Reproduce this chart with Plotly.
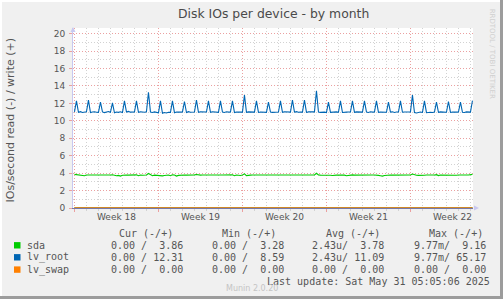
import pandas as pd
import plotly.graph_objects as go

# ---------------- data ----------------
# 4-hourly samples starting 2025-04-28 00:00 (00,04,08,12,16,20 each day)
lv_root_write = [
    11.02, 12.29, 10.98, 11.05, 10.96, 11.00,  # Apr 28
    11.03, 12.37, 10.95, 11.00, 11.04, 10.98,  # Apr 29
    10.97, 12.14, 11.02, 10.94, 11.00, 11.06,  # Apr 30
    10.98, 12.06, 10.92, 11.00, 10.97, 11.03,  # May 1
    10.95, 12.29, 11.00, 11.08, 10.99, 11.02,  # May 2
    11.01, 12.29, 10.97, 11.03, 11.00, 10.98,  # May 3
    11.04, 13.28, 11.00, 10.96, 11.02, 11.00,  # May 4
    10.92, 12.29, 10.86, 10.95, 10.90, 10.98,  # May 5
    10.96, 12.29, 10.93, 11.00, 10.97, 10.99,  # May 6
    11.02, 12.21, 10.95, 11.05, 10.98, 11.01,  # May 7
    11.00, 12.37, 10.97, 11.03, 11.00, 10.96,  # May 8
    11.01, 12.29, 10.98, 11.04, 10.99, 11.02,  # May 9
    10.97, 12.29, 11.00, 10.96, 11.03, 10.99,  # May 10
    11.02, 12.29, 10.95, 11.01, 10.98, 11.00,  # May 11
    10.99, 12.94, 10.97, 11.02, 10.99, 11.01,  # May 12
    11.00, 12.29, 10.96, 11.00, 10.98, 11.03,  # May 13
    10.97, 12.14, 11.00, 10.97, 11.00, 10.99,  # May 14
    11.01, 12.29, 10.98, 11.04, 11.00, 10.97,  # May 15
    11.00, 12.37, 10.99, 11.05, 10.98, 11.01,  # May 16
    10.99, 12.37, 10.96, 11.02, 11.00, 10.98,  # May 17
    11.02, 13.44, 11.00, 10.97, 11.01, 10.99,  # May 18
    10.94, 12.14, 10.97, 11.00, 10.96, 11.02,  # May 19
    10.98, 12.29, 10.95, 11.01, 10.99, 11.00,  # May 20
    11.00, 12.29, 10.97, 11.02, 10.98, 11.01,  # May 21
    10.99, 12.29, 11.00, 10.96, 11.03, 10.99,  # May 22
    11.01, 12.29, 10.97, 11.00, 10.98, 11.02,  # May 23
    10.98, 12.14, 10.99, 11.03, 10.96, 11.00,  # May 24
    11.00, 12.29, 10.98, 11.01, 10.99, 10.97,  # May 25
    11.02, 12.94, 10.95, 10.90, 10.97, 11.00,  # May 26
    10.96, 12.29, 10.93, 11.00, 10.98, 10.95,  # May 27
    11.00, 12.14, 10.97, 11.02, 10.99, 11.01,  # May 28
    10.98, 12.21, 10.96, 11.00, 10.97, 10.99,  # May 29
    11.00, 12.14, 10.97, 10.95, 11.02, 10.98,  # May 30
    11.00, 12.31,                              # May 31
]
sda_write = [
    3.86, 3.84, 3.80, 3.78, 3.79, 3.70,
    3.78, 3.80, 3.77, 3.78, 3.79, 3.78,
    3.77, 3.79, 3.78, 3.77, 3.78, 3.79,
    3.78, 3.82, 3.76, 3.70, 3.74, 3.66,
    3.75, 3.80, 3.78, 3.77, 3.79, 3.78,
    3.77, 3.80, 3.70, 3.78, 3.76, 3.79,
    3.78, 3.96, 3.78, 3.70, 3.77, 3.74,
    3.70, 3.74, 3.68, 3.72, 3.76, 3.78,
    3.70, 3.80, 3.78, 3.66, 3.74, 3.78,
    3.79, 3.78, 3.77, 3.78, 3.72, 3.74,
    3.80, 3.84, 3.78, 3.77, 3.78, 3.79,
    3.78, 3.80, 3.77, 3.78, 3.79, 3.77,
    3.78, 3.79, 3.78, 3.77, 3.78, 3.78,
    3.74, 3.80, 3.70, 3.78, 3.76, 3.72,
    3.78, 3.92, 3.72, 3.78, 3.77, 3.78,
    3.79, 3.80, 3.78, 3.77, 3.78, 3.79,
    3.77, 3.79, 3.78, 3.78, 3.77, 3.78,
    3.78, 3.80, 3.77, 3.72, 3.78, 3.79,
    3.78, 3.82, 3.77, 3.78, 3.79, 3.78,
    3.77, 3.80, 3.72, 3.78, 3.78, 3.77,
    3.78, 3.98, 3.78, 3.77, 3.78, 3.79,
    3.78, 3.80, 3.76, 3.72, 3.78, 3.77,
    3.79, 3.81, 3.78, 3.77, 3.70, 3.76,
    3.78, 3.80, 3.77, 3.78, 3.74, 3.78,
    3.77, 3.82, 3.78, 3.77, 3.78, 3.79,
    3.78, 3.80, 3.74, 3.70, 3.66, 3.72,
    3.76, 3.80, 3.78, 3.77, 3.78, 3.78,
    3.79, 3.80, 3.77, 3.78, 3.79, 3.77,
    3.78, 3.90, 3.80, 3.76, 3.74, 3.72,
    3.70, 3.76, 3.78, 3.77, 3.78, 3.79,
    3.78, 3.82, 3.72, 3.78, 3.77, 3.78,
    3.78, 3.80, 3.78, 3.72, 3.70, 3.76,
    3.78, 3.80, 3.77, 3.78, 3.79, 3.78,
    3.80, 3.86,
]
lv_swap_write = [0.0] * len(sda_write)
read_values = [0.0] * len(sda_write)

series_names = ["sda", "lv_root", "lv_swap"]
series_colors = ["#00cc00", "#0066b3", "#ff8000"]
cur_col = ["0.00 /  3.86", "0.00 / 12.31", "0.00 /  0.00"]
min_col = ["0.00 /  3.28", "0.00 /  8.59", "0.00 /  0.00"]
avg_col = ["2.43u/  3.78", "2.43u/ 11.09", "0.00 /  0.00"]
max_col = ["9.77m/  9.16", "9.77m/ 65.17", "0.00 /  0.00"]
col_headers = ["Cur (-/+)", "Min (-/+)", "Avg (-/+)", "Max (-/+)"]

week_labels = ["Week 18", "Week 19", "Week 20", "Week 21", "Week 22"]
week_label_dates = ["2025-05-01 12:00", "2025-05-08 12:00", "2025-05-15 12:00",
                    "2025-05-22 12:00", "2025-05-29 12:00"]

x_start = "2025-04-27 21:05"
x_end = "2025-05-31 05:05"
times = pd.date_range("2025-04-28 00:00", periods=len(sda_write), freq="4h")

# ---------------- geometry helpers ----------------
W, H = 503, 299
L, R, T, B = 73, 30, 28, 91
PW, PH = W - L - R, H - T - B


def px(x):
    return (x - L) / PW


def py(y):
    return (H - B - y) / PH


def nb(s):
    return s.replace(" ", "\u00a0")


TXT = "#555555"
RED = "#eba0a0"
GRAY = "#d2d2d2"

fig = go.Figure()
all_writes = [sda_write, lv_root_write, lv_swap_write]
for name, col, wv in zip(series_names, series_colors, all_writes):
    fig.add_trace(go.Scatter(x=times, y=[-v for v in read_values], mode="lines",
                             line=dict(color=col, width=1), showlegend=False,
                             hoverinfo="skip"))
for name, col, wv in zip(series_names[::-1], series_colors[::-1], all_writes[::-1]):
    fig.add_trace(go.Scatter(x=times, y=wv, mode="lines", name=name,
                             line=dict(color=col, width=1.1), showlegend=False))

fig.update_layout(
    width=W, height=H,
    margin=dict(l=L, r=R, t=T, b=B, pad=0),
    paper_bgcolor="#f0f0f0",
    plot_bgcolor="white",
    font=dict(family="DejaVu Sans", size=9, color=TXT),
    showlegend=False,
)
fig.update_xaxes(
    type="date", range=[x_start, x_end], fixedrange=True,
    tickmode="linear", tick0="2025-04-28", dtick=7 * 86400000,
    showticklabels=False, showgrid=True, gridcolor=RED, griddash="1px,2px", gridwidth=1,
    ticks="outside", ticklen=3, tickcolor=RED,
    minor=dict(dtick=86400000, tick0="2025-04-28", showgrid=True, gridcolor=GRAY,
               griddash="1px,2px", ticks="outside", ticklen=2, tickcolor=GRAY),
    showline=True, linecolor="#7878a8", linewidth=1, zeroline=False,
)
fig.update_yaxes(
    range=[0, 20.64], fixedrange=True,
    tickmode="linear", tick0=0, dtick=2,
    tickfont=dict(size=9, color=TXT),
    showgrid=True, gridcolor=RED, griddash="1px,2px", gridwidth=1,
    ticks="outside", ticklen=3, tickcolor=RED, ticklabelstandoff=2,
    minor=dict(dtick=1, showgrid=True, gridcolor=GRAY, griddash="1px,2px"),
    showline=True, linecolor="#c8c8f0", linewidth=1, zeroline=False,
)

ann = []
ann.append(dict(text="Disk IOs per device - by month", x=0.5, xref="paper",
                y=py(13.5), yref="paper", xanchor="center", yanchor="middle",
                showarrow=False, font=dict(family="DejaVu Sans", size=12.4, color="#4a4a4a")))
ann.append(dict(text="IOs/second read (-) / write (+)", x=px(10), y=py(120.5),
                xref="paper", yref="paper", textangle=-90, showarrow=False,
                xanchor="center", yanchor="middle",
                font=dict(family="DejaVu Sans", size=11, color=TXT)))
ann.append(dict(text="RRDTOOL / TOBI OETIKER", x=px(492.3), y=py(54), xref="paper",
                yref="paper", textangle=90, showarrow=False, xanchor="center",
                yanchor="middle", font=dict(family="DejaVu Sans", size=7, color="#cfcfcf")))
for lab, d in zip(week_labels, week_label_dates):
    ann.append(dict(text=lab, x=d, xref="x", y=py(216.7), yref="paper",
                    xanchor="center", yanchor="middle", showarrow=False,
                    font=dict(family="DejaVu Sans", size=9, color=TXT)))

MONO = dict(family="DejaVu Sans Mono", size=10, color=TXT)
header_x = [118.3, 221.7, 325.0, 428.3]
value_x = [110.0, 211.7, 311.7, 413.3]
for hx, h in zip(header_x, col_headers):
    ann.append(dict(text=nb(h), x=px(hx - 1.5), y=py(233.5), xref="paper", yref="paper",
                    xanchor="left", yanchor="middle", showarrow=False, font=MONO))
row_y = [245.3, 257.3, 269.6]
shapes = []
for i, name in enumerate(series_names):
    ann.append(dict(text=nb(name), x=px(26.7 - 1.5), y=py(row_y[i]), xref="paper",
                    yref="paper", xanchor="left", yanchor="middle", showarrow=False,
                    font=MONO))
    for vx, colvals in zip(value_x, [cur_col, min_col, avg_col, max_col]):
        ann.append(dict(text=nb(colvals[i]), x=px(vx - 1.5), y=py(row_y[i]),
                        xref="paper", yref="paper", xanchor="left", yanchor="middle",
                        showarrow=False, font=MONO))
    shapes.append(dict(type="rect", xref="paper", yref="paper",
                       x0=px(14), x1=px(20.5), y0=py(row_y[i] - 3.2), y1=py(row_y[i] + 3.2),
                       fillcolor=series_colors[i], line=dict(width=0)))
ann.append(dict(text=nb("Last update: Sat May 31 05:05:06 2025"), x=px(266.7 - 1.5),
                y=py(281.3), xref="paper", yref="paper", xanchor="left", yanchor="middle",
                showarrow=False, font=MONO))
ann.append(dict(text="Munin 2.0.20", x=px(251.5), y=py(288.7), xref="paper", yref="paper",
                xanchor="center", yanchor="middle", showarrow=False,
                font=dict(family="DejaVu Sans", size=8, color="#c4c4c4")))

# axis arrows (decoration)
def path(points):
    return "M " + " L ".join(f"{px(a)},{py(b)}" for a, b in points) + " Z"

shapes.append(dict(type="path", xref="paper", yref="paper",
                   path=path([(70.5, 32), (75.5, 32), (73, 27)]),
                   fillcolor="#c8c8f0", line=dict(width=0)))
shapes.append(dict(type="path", xref="paper", yref="paper",
                   path=path([(474, 205.5), (474, 210.5), (479, 208)]),
                   fillcolor="#c8c8f0", line=dict(width=0)))
# frame
shapes.append(dict(type="rect", xref="paper", yref="paper", x0=px(0), x1=px(2),
                   y0=py(299), y1=py(0), fillcolor="#ffffff", line=dict(width=0)))
shapes.append(dict(type="rect", xref="paper", yref="paper", x0=px(0), x1=px(503),
                   y0=py(2), y1=py(0), fillcolor="#ffffff", line=dict(width=0)))
shapes.append(dict(type="rect", xref="paper", yref="paper", x0=px(500), x1=px(503),
                   y0=py(299), y1=py(0), fillcolor="#9c9c9c", line=dict(width=0)))
shapes.append(dict(type="rect", xref="paper", yref="paper", x0=px(0), x1=px(503),
                   y0=py(299), y1=py(296), fillcolor="#9c9c9c", line=dict(width=0)))

fig.update_layout(annotations=ann, shapes=shapes)
fig.write_html("out.html")
